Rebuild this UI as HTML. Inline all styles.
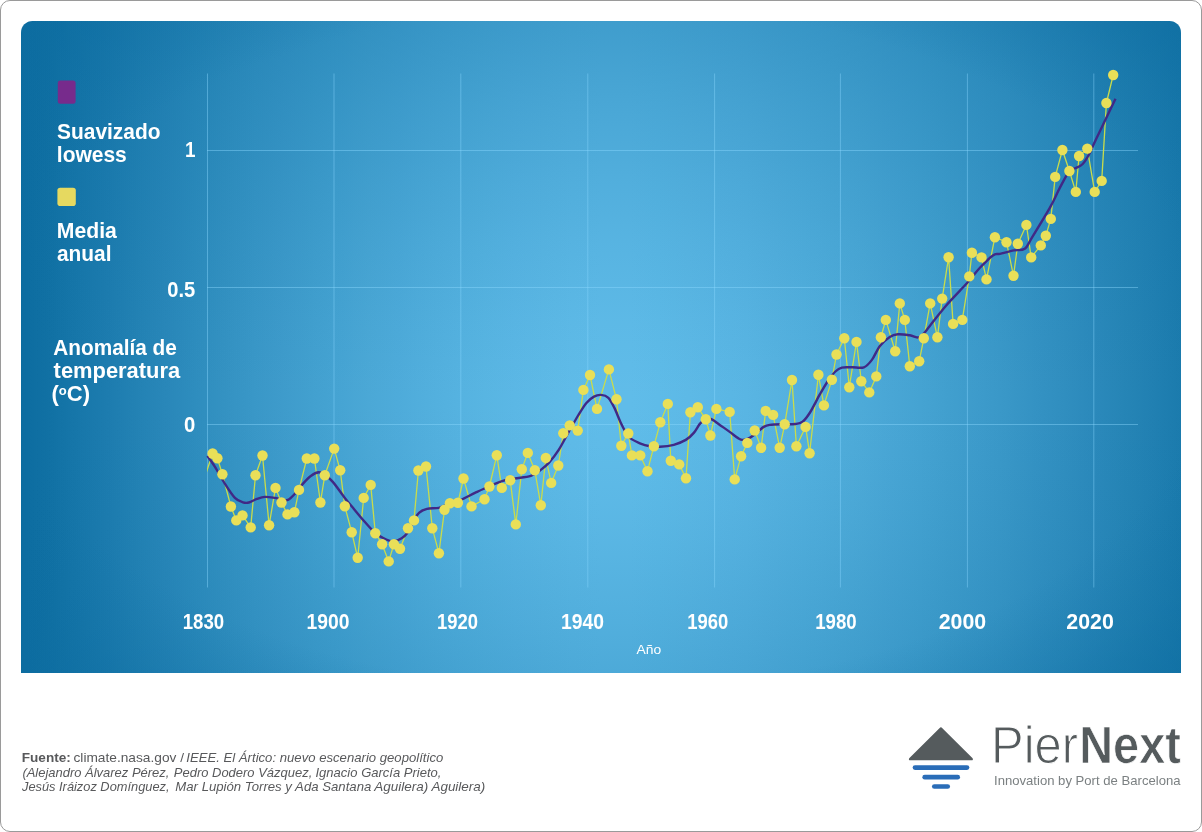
<!DOCTYPE html>
<html lang="es">
<head>
<meta charset="utf-8">
<title>Anomalía de temperatura</title>
<style>
html,body{margin:0;padding:0;background:#fff;}
body{width:1202px;height:832px;position:relative;overflow:hidden;font-family:"Liberation Sans",sans-serif;}
.frame{position:absolute;left:0;top:0;width:1200px;height:830px;border:1px solid #9a9a9a;border-radius:10px;background:#fff;}
.panel{position:absolute;left:21px;top:21px;width:1160px;height:652px;border-radius:11.5px 11.5px 0 0;
 background:radial-gradient(ellipse farthest-corner at 50% 50%,rgba(12,108,160,0) 74%,rgba(12,108,160,.22) 88%,rgba(12,108,160,.5) 100%),linear-gradient(to bottom,rgba(12,108,160,0.389) 0.0%,rgba(12,108,160,0.349) 4.2%,rgba(12,108,160,0.310) 8.3%,rgba(12,108,160,0.272) 12.5%,rgba(12,108,160,0.236) 16.7%,rgba(12,108,160,0.202) 20.8%,rgba(12,108,160,0.170) 25.0%,rgba(12,108,160,0.140) 29.2%,rgba(12,108,160,0.111) 33.3%,rgba(12,108,160,0.085) 37.5%,rgba(12,108,160,0.062) 41.7%,rgba(12,108,160,0.041) 45.8%,rgba(12,108,160,0.023) 50.0%,rgba(12,108,160,0.009) 54.2%,rgba(12,108,160,0.000) 58.3%,rgba(12,108,160,0.006) 62.5%,rgba(12,108,160,0.019) 66.7%,rgba(12,108,160,0.036) 70.8%,rgba(12,108,160,0.056) 75.0%,rgba(12,108,160,0.079) 79.2%,rgba(12,108,160,0.104) 83.3%,rgba(12,108,160,0.132) 87.5%,rgba(12,108,160,0.162) 91.7%,rgba(12,108,160,0.193) 95.8%,rgba(12,108,160,0.227) 100.0%),linear-gradient(to right,#0c6ca0 0.0%,#1171a4 2.5%,#1777aa 5.0%,#1d7caf 7.5%,#2382b4 10.0%,#2987b9 12.5%,#2e8dbe 15.0%,#3492c2 17.5%,#3997c7 20.0%,#3e9bcb 22.5%,#42a0cf 25.0%,#46a4d3 27.5%,#4ba8d6 30.0%,#4eabda 32.5%,#52afdd 35.0%,#55b2e0 37.5%,#58b5e2 40.0%,#5bb7e5 42.5%,#5db9e6 45.0%,#5fbbe8 47.5%,#60bce9 50.0%,#60bce9 52.5%,#5ebbe8 55.0%,#5db9e6 57.5%,#5bb7e5 60.0%,#59b5e3 62.5%,#56b2e0 65.0%,#53b0de 67.5%,#50addb 70.0%,#4daad8 72.5%,#49a6d5 75.0%,#45a3d2 77.5%,#419fce 80.0%,#3d9bcb 82.5%,#3997c7 85.0%,#3492c3 87.5%,#308ebf 90.0%,#2b89bb 92.5%,#2685b6 95.0%,#2180b2 97.5%,#1b7bad 100.0%);}
svg{position:absolute;left:0;top:0;}
svg text{font-family:"Liberation Sans",sans-serif;}
</style>
</head>
<body>
<div class="frame"></div>
<div class="panel"></div>
<svg width="1202" height="832" viewBox="0 0 1202 832">
<g stroke="#8ad8ff" stroke-opacity=".44" stroke-width="1" fill="none">
<line x1="207.5" y1="73.5" x2="207.5" y2="587.5"/>
<line x1="334.0" y1="73.5" x2="334.0" y2="587.5"/>
<line x1="460.8" y1="73.5" x2="460.8" y2="587.5"/>
<line x1="587.8" y1="73.5" x2="587.8" y2="587.5"/>
<line x1="714.6" y1="73.5" x2="714.6" y2="587.5"/>
<line x1="840.4" y1="73.5" x2="840.4" y2="587.5"/>
<line x1="967.4" y1="73.5" x2="967.4" y2="587.5"/>
<line x1="1093.8" y1="73.5" x2="1093.8" y2="587.5"/>
<line x1="207" y1="150.5" x2="1138" y2="150.5"/>
<line x1="207" y1="287.5" x2="1138" y2="287.5"/>
<line x1="207" y1="424.5" x2="1138" y2="424.5"/>
</g>
<clipPath id="cp"><rect x="207" y="40" width="960" height="560"/></clipPath>
<g clip-path="url(#cp)">
<polyline fill="none" stroke="#c9dc4b" stroke-width="1.3" stroke-linejoin="round" points="206.3,472.5 212.6,453.5 217.4,458.3 222.4,474.3 230.9,506.5 236.3,520.4 242.5,515.4 250.7,527.4 255.5,475.3 262.5,455.5 269.1,525.2 275.5,487.9 281.5,502.5 287.5,514.4 294.4,512.3 299.0,489.9 306.8,458.5 314.4,458.5 320.4,502.5 324.8,475.3 334.2,448.6 340.2,470.3 344.8,506.3 351.7,532.2 357.7,557.8 363.7,497.9 370.7,484.9 375.3,533.2 382.1,544.2 388.7,561.4 393.9,544.2 400.0,548.8 408.0,528.2 414.0,520.4 418.4,470.5 426.0,466.5 432.3,528.2 438.9,553.2 444.5,509.8 449.9,503.2 457.9,502.8 463.5,478.5 471.5,506.4 484.5,499.2 489.4,486.5 496.8,455.3 501.8,487.9 510.2,480.3 515.8,524.4 521.8,469.3 527.8,452.9 534.8,470.3 540.8,505.2 545.8,457.9 551.2,482.9 558.3,465.5 563.3,433.3 569.7,425.4 577.7,430.6 583.4,389.9 590.0,375.0 597.0,408.9 608.9,369.4 616.5,399.3 621.3,445.8 628.3,433.5 631.9,455.4 640.3,455.4 647.5,471.2 653.9,446.2 660.3,422.3 667.8,403.9 670.8,460.8 679.2,464.4 686.0,478.2 690.4,412.3 697.8,407.3 705.8,419.3 710.4,435.5 716.4,408.9 729.7,411.9 734.7,479.4 741.1,456.2 747.3,442.9 754.7,430.5 761.1,447.8 765.7,410.9 773.1,414.9 779.7,447.8 784.7,424.3 792.0,380.0 796.4,446.2 805.6,426.9 809.6,453.2 818.4,374.8 823.9,405.4 831.9,379.8 836.5,354.5 844.3,338.3 849.3,387.2 856.5,341.9 861.3,381.2 869.3,392.4 876.3,376.4 880.9,337.3 885.8,319.9 895.2,351.3 899.8,303.4 904.8,319.9 909.8,366.3 919.2,361.3 923.8,338.3 930.2,303.4 937.4,337.3 942.2,298.6 948.6,257.2 953.1,323.9 962.3,319.9 969.3,276.4 971.9,252.8 981.5,257.4 986.5,279.4 994.9,237.2 1006.5,242.2 1013.5,275.8 1017.8,243.8 1026.4,224.9 1031.2,257.4 1040.8,245.4 1045.8,235.8 1050.8,218.9 1055.2,176.9 1062.4,150.0 1069.4,171.0 1075.8,191.9 1079.1,156.0 1087.3,148.6 1094.7,191.9 1101.7,180.9 1106.4,103.0 1113.2,75.0"/>
</g>
<path fill="none" stroke="#402986" stroke-width="2.4" stroke-linecap="butt" stroke-linejoin="round" d="M207.4 455.9C208.7 457.7 212.1 462.2 215.0 466.9C217.9 471.6 221.7 478.7 225.0 483.9C228.3 489.1 231.9 494.8 234.9 497.9C237.9 501.0 240.6 501.5 242.9 502.3C245.2 503.1 246.6 503.1 248.9 502.5C251.2 501.9 254.2 499.8 256.9 498.9C259.6 498.0 261.9 497.1 264.9 496.9C267.9 496.7 272.1 497.5 274.9 497.9C277.7 498.3 279.3 499.2 281.5 499.5C283.7 499.8 285.7 500.8 287.9 499.9C290.1 499.0 292.3 496.6 294.8 493.9C297.3 491.2 300.1 486.9 302.8 483.9C305.5 480.9 308.1 477.8 310.8 475.9C313.5 474.0 316.5 472.5 318.8 472.3C321.1 472.1 322.5 473.3 324.8 474.9C327.1 476.5 329.5 478.1 332.8 481.9C336.1 485.7 341.2 493.2 344.8 497.9C348.4 502.6 351.4 505.9 354.7 509.9C358.0 513.9 361.3 517.9 364.7 521.8C368.1 525.7 372.3 530.5 375.3 533.2C378.3 535.9 380.3 536.5 382.7 537.8C385.1 539.1 387.7 540.2 389.7 540.8C391.7 541.4 392.9 541.5 394.7 541.2C396.5 540.9 398.7 540.0 400.7 538.8C402.7 537.6 404.5 536.9 406.7 533.8C408.9 530.7 411.9 523.9 414.0 520.4C416.1 516.9 416.8 514.7 419.0 512.8C421.2 510.9 423.7 509.6 427.0 508.8C430.3 508.0 435.2 508.6 438.9 507.8C442.5 507.0 445.2 505.1 448.9 503.8C452.6 502.5 456.6 501.6 460.9 499.8C465.2 498.0 470.2 495.1 474.9 492.9C479.6 490.7 484.2 488.5 488.9 486.5C493.5 484.5 498.5 482.2 502.8 480.9C507.1 479.6 510.1 479.3 514.8 478.5C519.5 477.7 526.5 477.3 530.8 475.9C535.1 474.5 537.8 472.1 540.8 469.9C543.8 467.7 545.8 466.2 548.8 462.9C551.8 459.6 555.4 455.1 558.7 449.9C562.0 444.7 565.4 437.7 568.7 431.9C572.0 426.1 575.5 419.8 578.4 415.0C581.3 410.2 583.8 406.0 586.4 402.9C589.0 399.8 591.6 397.9 594.0 396.6C596.4 395.3 598.6 394.7 601.0 394.9C603.4 395.1 606.2 395.7 608.4 397.9C610.6 400.1 612.4 403.9 614.4 407.9C616.4 411.9 618.6 418.1 620.4 421.9C622.2 425.7 623.4 428.2 625.0 430.9C626.6 433.6 627.4 435.8 629.9 437.9C632.4 440.0 636.6 441.9 639.9 443.3C643.2 444.7 646.6 445.7 649.9 446.3C653.2 446.9 655.9 447.1 659.9 446.8C663.9 446.6 669.5 446.0 673.8 444.8C678.1 443.6 682.5 441.9 685.8 439.9C689.1 437.9 691.5 435.6 693.8 432.9C696.1 430.2 697.9 426.1 699.8 423.9C701.7 421.7 703.2 420.3 705.0 419.5C706.8 418.7 708.3 418.0 710.8 418.9C713.3 419.8 716.6 422.7 719.8 424.9C722.9 427.1 726.7 429.7 729.7 431.9C732.7 434.1 735.5 436.6 737.7 437.9C739.9 439.2 740.7 439.9 742.7 439.9C744.7 439.9 747.2 439.2 749.7 437.9C752.2 436.6 755.4 433.7 757.7 431.9C760.0 430.1 761.7 428.1 763.7 426.9C765.7 425.7 766.7 425.3 769.7 424.9C772.7 424.5 777.4 424.4 781.7 424.3C786.0 424.2 792.1 424.4 795.6 424.0C799.1 423.6 800.2 423.6 802.6 421.7C805.0 419.8 807.1 417.1 810.0 412.5C812.9 407.9 817.0 399.4 820.0 394.2C823.0 388.9 825.3 384.8 827.9 381.0C830.5 377.2 833.1 373.7 835.4 371.5C837.7 369.3 839.1 368.3 841.9 367.6C844.7 366.9 848.3 367.4 852.0 367.3C855.7 367.2 860.6 368.5 863.9 367.3C867.2 366.1 869.2 363.5 871.9 359.9C874.6 356.3 876.9 349.7 879.9 345.9C882.9 342.1 886.8 338.8 889.8 336.9C892.8 335.0 894.5 334.6 897.8 334.3C901.1 334.0 906.3 334.8 909.8 335.3C913.3 335.8 916.5 337.8 918.8 337.5C921.1 337.2 922.0 335.4 923.8 333.5C925.6 331.6 926.1 330.5 929.8 325.9C933.5 321.3 939.8 312.9 946.0 305.7C952.2 298.5 961.6 289.1 967.3 282.8C972.9 276.5 975.6 272.4 979.9 267.8C984.2 263.2 989.6 257.7 992.9 255.4C996.2 253.1 996.4 254.6 999.9 253.8C1003.4 253.0 1009.8 251.2 1013.9 250.4C1018.0 249.6 1021.8 250.9 1024.8 248.8C1027.8 246.7 1027.6 244.6 1031.8 237.8C1036.0 231.0 1045.1 216.2 1049.8 207.9C1054.5 199.6 1056.5 194.1 1059.8 187.9C1063.1 181.8 1066.7 174.3 1069.4 171.0C1072.1 167.7 1073.6 169.2 1075.8 168.0C1078.0 166.8 1080.5 166.2 1082.7 164.0C1084.9 161.8 1086.5 159.0 1088.7 155.0C1090.9 151.0 1091.2 149.4 1095.7 140.0C1100.2 130.6 1112.2 105.6 1115.5 98.7"/>
<g fill="#e9df58">
<circle cx="212.6" cy="453.5" r="5.2"/>
<circle cx="217.4" cy="458.3" r="5.2"/>
<circle cx="222.4" cy="474.3" r="5.2"/>
<circle cx="230.9" cy="506.5" r="5.2"/>
<circle cx="236.3" cy="520.4" r="5.2"/>
<circle cx="242.5" cy="515.4" r="5.2"/>
<circle cx="250.7" cy="527.4" r="5.2"/>
<circle cx="255.5" cy="475.3" r="5.2"/>
<circle cx="262.5" cy="455.5" r="5.2"/>
<circle cx="269.1" cy="525.2" r="5.2"/>
<circle cx="275.5" cy="487.9" r="5.2"/>
<circle cx="281.5" cy="502.5" r="5.2"/>
<circle cx="287.5" cy="514.4" r="5.2"/>
<circle cx="294.4" cy="512.3" r="5.2"/>
<circle cx="299.0" cy="489.9" r="5.2"/>
<circle cx="306.8" cy="458.5" r="5.2"/>
<circle cx="314.4" cy="458.5" r="5.2"/>
<circle cx="320.4" cy="502.5" r="5.2"/>
<circle cx="324.8" cy="475.3" r="5.2"/>
<circle cx="334.2" cy="448.6" r="5.2"/>
<circle cx="340.2" cy="470.3" r="5.2"/>
<circle cx="344.8" cy="506.3" r="5.2"/>
<circle cx="351.7" cy="532.2" r="5.2"/>
<circle cx="357.7" cy="557.8" r="5.2"/>
<circle cx="363.7" cy="497.9" r="5.2"/>
<circle cx="370.7" cy="484.9" r="5.2"/>
<circle cx="375.3" cy="533.2" r="5.2"/>
<circle cx="382.1" cy="544.2" r="5.2"/>
<circle cx="388.7" cy="561.4" r="5.2"/>
<circle cx="393.9" cy="544.2" r="5.2"/>
<circle cx="400.0" cy="548.8" r="5.2"/>
<circle cx="408.0" cy="528.2" r="5.2"/>
<circle cx="414.0" cy="520.4" r="5.2"/>
<circle cx="418.4" cy="470.5" r="5.2"/>
<circle cx="426.0" cy="466.5" r="5.2"/>
<circle cx="432.3" cy="528.2" r="5.2"/>
<circle cx="438.9" cy="553.2" r="5.2"/>
<circle cx="444.5" cy="509.8" r="5.2"/>
<circle cx="449.9" cy="503.2" r="5.2"/>
<circle cx="457.9" cy="502.8" r="5.2"/>
<circle cx="463.5" cy="478.5" r="5.2"/>
<circle cx="471.5" cy="506.4" r="5.2"/>
<circle cx="484.5" cy="499.2" r="5.2"/>
<circle cx="489.4" cy="486.5" r="5.2"/>
<circle cx="496.8" cy="455.3" r="5.2"/>
<circle cx="501.8" cy="487.9" r="5.2"/>
<circle cx="510.2" cy="480.3" r="5.2"/>
<circle cx="515.8" cy="524.4" r="5.2"/>
<circle cx="521.8" cy="469.3" r="5.2"/>
<circle cx="527.8" cy="452.9" r="5.2"/>
<circle cx="534.8" cy="470.3" r="5.2"/>
<circle cx="540.8" cy="505.2" r="5.2"/>
<circle cx="545.8" cy="457.9" r="5.2"/>
<circle cx="551.2" cy="482.9" r="5.2"/>
<circle cx="558.3" cy="465.5" r="5.2"/>
<circle cx="563.3" cy="433.3" r="5.2"/>
<circle cx="569.7" cy="425.4" r="5.2"/>
<circle cx="577.7" cy="430.6" r="5.2"/>
<circle cx="583.4" cy="389.9" r="5.2"/>
<circle cx="590.0" cy="375.0" r="5.2"/>
<circle cx="597.0" cy="408.9" r="5.2"/>
<circle cx="608.9" cy="369.4" r="5.2"/>
<circle cx="616.5" cy="399.3" r="5.2"/>
<circle cx="621.3" cy="445.8" r="5.2"/>
<circle cx="628.3" cy="433.5" r="5.2"/>
<circle cx="631.9" cy="455.4" r="5.2"/>
<circle cx="640.3" cy="455.4" r="5.2"/>
<circle cx="647.5" cy="471.2" r="5.2"/>
<circle cx="653.9" cy="446.2" r="5.2"/>
<circle cx="660.3" cy="422.3" r="5.2"/>
<circle cx="667.8" cy="403.9" r="5.2"/>
<circle cx="670.8" cy="460.8" r="5.2"/>
<circle cx="679.2" cy="464.4" r="5.2"/>
<circle cx="686.0" cy="478.2" r="5.2"/>
<circle cx="690.4" cy="412.3" r="5.2"/>
<circle cx="697.8" cy="407.3" r="5.2"/>
<circle cx="705.8" cy="419.3" r="5.2"/>
<circle cx="710.4" cy="435.5" r="5.2"/>
<circle cx="716.4" cy="408.9" r="5.2"/>
<circle cx="729.7" cy="411.9" r="5.2"/>
<circle cx="734.7" cy="479.4" r="5.2"/>
<circle cx="741.1" cy="456.2" r="5.2"/>
<circle cx="747.3" cy="442.9" r="5.2"/>
<circle cx="754.7" cy="430.5" r="5.2"/>
<circle cx="761.1" cy="447.8" r="5.2"/>
<circle cx="765.7" cy="410.9" r="5.2"/>
<circle cx="773.1" cy="414.9" r="5.2"/>
<circle cx="779.7" cy="447.8" r="5.2"/>
<circle cx="784.7" cy="424.3" r="5.2"/>
<circle cx="792.0" cy="380.0" r="5.2"/>
<circle cx="796.4" cy="446.2" r="5.2"/>
<circle cx="805.6" cy="426.9" r="5.2"/>
<circle cx="809.6" cy="453.2" r="5.2"/>
<circle cx="818.4" cy="374.8" r="5.2"/>
<circle cx="823.9" cy="405.4" r="5.2"/>
<circle cx="831.9" cy="379.8" r="5.2"/>
<circle cx="836.5" cy="354.5" r="5.2"/>
<circle cx="844.3" cy="338.3" r="5.2"/>
<circle cx="849.3" cy="387.2" r="5.2"/>
<circle cx="856.5" cy="341.9" r="5.2"/>
<circle cx="861.3" cy="381.2" r="5.2"/>
<circle cx="869.3" cy="392.4" r="5.2"/>
<circle cx="876.3" cy="376.4" r="5.2"/>
<circle cx="880.9" cy="337.3" r="5.2"/>
<circle cx="885.8" cy="319.9" r="5.2"/>
<circle cx="895.2" cy="351.3" r="5.2"/>
<circle cx="899.8" cy="303.4" r="5.2"/>
<circle cx="904.8" cy="319.9" r="5.2"/>
<circle cx="909.8" cy="366.3" r="5.2"/>
<circle cx="919.2" cy="361.3" r="5.2"/>
<circle cx="923.8" cy="338.3" r="5.2"/>
<circle cx="930.2" cy="303.4" r="5.2"/>
<circle cx="937.4" cy="337.3" r="5.2"/>
<circle cx="942.2" cy="298.6" r="5.2"/>
<circle cx="948.6" cy="257.2" r="5.2"/>
<circle cx="953.1" cy="323.9" r="5.2"/>
<circle cx="962.3" cy="319.9" r="5.2"/>
<circle cx="969.3" cy="276.4" r="5.2"/>
<circle cx="971.9" cy="252.8" r="5.2"/>
<circle cx="981.5" cy="257.4" r="5.2"/>
<circle cx="986.5" cy="279.4" r="5.2"/>
<circle cx="994.9" cy="237.2" r="5.2"/>
<circle cx="1006.5" cy="242.2" r="5.2"/>
<circle cx="1013.5" cy="275.8" r="5.2"/>
<circle cx="1017.8" cy="243.8" r="5.2"/>
<circle cx="1026.4" cy="224.9" r="5.2"/>
<circle cx="1031.2" cy="257.4" r="5.2"/>
<circle cx="1040.8" cy="245.4" r="5.2"/>
<circle cx="1045.8" cy="235.8" r="5.2"/>
<circle cx="1050.8" cy="218.9" r="5.2"/>
<circle cx="1055.2" cy="176.9" r="5.2"/>
<circle cx="1062.4" cy="150.0" r="5.2"/>
<circle cx="1069.4" cy="171.0" r="5.2"/>
<circle cx="1075.8" cy="191.9" r="5.2"/>
<circle cx="1079.1" cy="156.0" r="5.2"/>
<circle cx="1087.3" cy="148.6" r="5.2"/>
<circle cx="1094.7" cy="191.9" r="5.2"/>
<circle cx="1101.7" cy="180.9" r="5.2"/>
<circle cx="1106.4" cy="103.0" r="5.2"/>
<circle cx="1113.2" cy="75.0" r="5.2"/>
</g>
<!-- legend -->
<rect x="57.8" y="80.4" width="17.8" height="23.4" rx="2.5" fill="#772b8c"/>
<rect x="57.4" y="187.7" width="18.4" height="18.4" rx="2.8" fill="#e6d960"/>
<g fill="#fff" font-weight="bold" font-size="22">
<text x="57" y="139.2" textLength="103.5" lengthAdjust="spacingAndGlyphs">Suavizado</text>
<text x="56.8" y="162" textLength="70" lengthAdjust="spacingAndGlyphs">lowess</text>
<text x="56.8" y="237.6" textLength="60" lengthAdjust="spacingAndGlyphs">Media</text>
<text x="57" y="260.7" textLength="54.5" lengthAdjust="spacingAndGlyphs">anual</text>
<text x="53.3" y="355" textLength="123.5" lengthAdjust="spacingAndGlyphs">Anomalía de</text>
<text x="53.6" y="377.6" textLength="126.5" lengthAdjust="spacingAndGlyphs">temperatura</text>
<text x="51.5" y="400.7" textLength="38.5" lengthAdjust="spacingAndGlyphs">(<tspan font-size="13" dy="-5.5">o</tspan><tspan dy="5.5">C)</tspan></text>
</g>
<!-- axis labels -->
<g fill="#fff" font-weight="bold" font-size="21.5" text-anchor="end">
<text x="195.6" y="156.6" textLength="10.5" lengthAdjust="spacingAndGlyphs">1</text>
<text x="195.3" y="296.9" textLength="28" lengthAdjust="spacingAndGlyphs">0.5</text>
<text x="195.3" y="432" textLength="11.3" lengthAdjust="spacingAndGlyphs">0</text>
</g>
<g fill="#fff" font-weight="bold" font-size="21.5" text-anchor="middle">
<text x="203.4" y="629.3" textLength="41.5" lengthAdjust="spacingAndGlyphs">1830</text>
<text x="328.1" y="629.3" textLength="43" lengthAdjust="spacingAndGlyphs">1900</text>
<text x="457.6" y="629.3" textLength="41" lengthAdjust="spacingAndGlyphs">1920</text>
<text x="582.4" y="629.3" textLength="43" lengthAdjust="spacingAndGlyphs">1940</text>
<text x="707.7" y="629.3" textLength="41" lengthAdjust="spacingAndGlyphs">1960</text>
<text x="836" y="629.3" textLength="41.5" lengthAdjust="spacingAndGlyphs">1980</text>
<text x="962.4" y="629.3" textLength="47.5" lengthAdjust="spacingAndGlyphs">2000</text>
<text x="1090.1" y="629.3" textLength="47.5" lengthAdjust="spacingAndGlyphs">2020</text>
</g>
<text x="648.8" y="654" fill="#fff" font-size="13.5" text-anchor="middle" textLength="24.7" lengthAdjust="spacingAndGlyphs">Año</text>
<!-- logo -->
<path d="M940.2 727.6 Q940.9 726.8 941.6 727.6 L972.6 758.3 Q973.6 760.3 971.6 760.3 L910.2 760.3 Q908.2 760.3 909.2 758.3 Z" fill="#555b5d"/>
<g stroke="#2a6db8" stroke-width="4.7" stroke-linecap="round">
<line x1="915" y1="767.6" x2="967" y2="767.6"/>
<line x1="924.7" y1="777.2" x2="957.7" y2="777.2"/>
<line x1="934.3" y1="786.5" x2="947.7" y2="786.5"/>
</g>
<g fill="#555b5d" font-size="51">
<text x="991" y="763" textLength="87" lengthAdjust="spacingAndGlyphs" stroke="#fff" stroke-width="1.1">Pier</text>
<text x="1079.3" y="763.2" font-weight="bold" textLength="101.5" lengthAdjust="spacingAndGlyphs" stroke="#fff" stroke-width="0.7">Next</text>
</g>
<text x="994" y="784.9" font-size="12.4" fill="#7b8082" textLength="186.5" lengthAdjust="spacingAndGlyphs">Innovation by Port de Barcelona</text>
<!-- footer -->
<g fill="#58595b" font-size="13.6">
<text x="21.8" y="762.3" font-weight="bold" textLength="49" lengthAdjust="spacingAndGlyphs">Fuente:</text>
<text x="73.5" y="762.3" textLength="110.5" lengthAdjust="spacingAndGlyphs">climate.nasa.gov /</text>
<text x="186.3" y="762.3" font-style="italic" textLength="257" lengthAdjust="spacingAndGlyphs">IEEE. El Ártico: nuevo escenario geopolítico</text>
<g font-style="italic">
<text x="22.4" y="776.5" textLength="147" lengthAdjust="spacingAndGlyphs">(Alejandro Álvarez Pérez,</text>
<text x="173.8" y="776.5" textLength="138.5" lengthAdjust="spacingAndGlyphs">Pedro Dodero Vázquez,</text>
<text x="315.5" y="776.5" textLength="126" lengthAdjust="spacingAndGlyphs">Ignacio García Prieto,</text>
<text x="22" y="791" textLength="147.5" lengthAdjust="spacingAndGlyphs">Jesús Iráizoz Domínguez,</text>
<text x="175.3" y="791" textLength="196" lengthAdjust="spacingAndGlyphs">Mar Lupión Torres y Ada Santana</text>
<text x="374.3" y="791" textLength="111" lengthAdjust="spacingAndGlyphs">Aguilera) Aguilera)</text>
</g>
</g>
</svg>
</body>
</html>
